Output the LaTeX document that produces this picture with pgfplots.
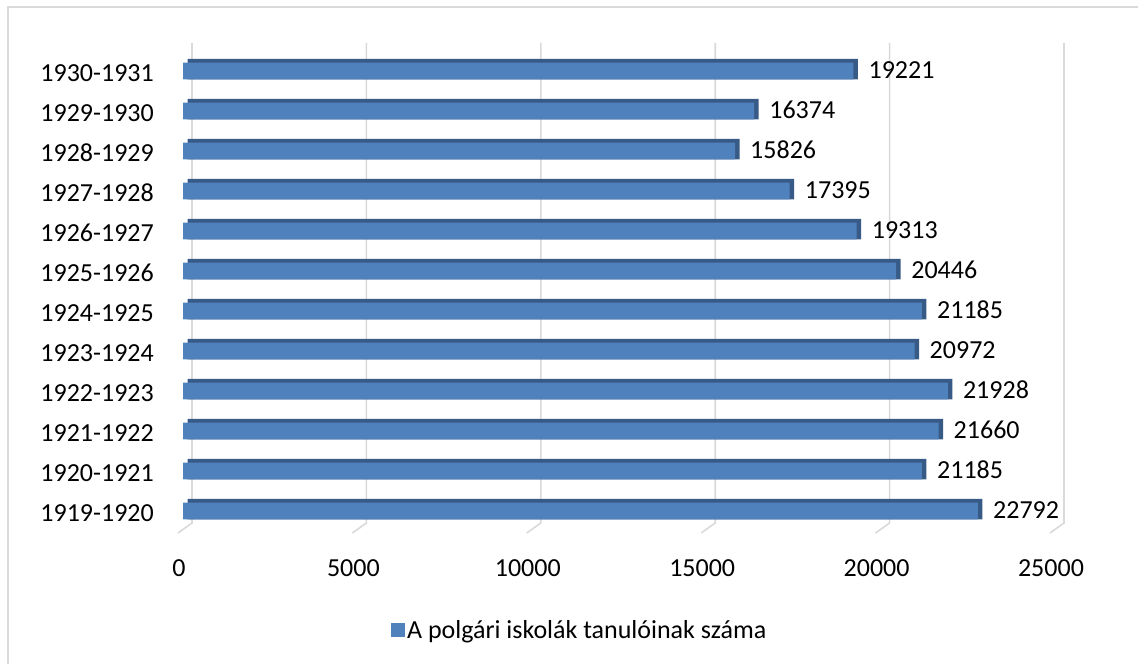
\documentclass[border=0pt]{standalone}
\usepackage{pgfplots}
\pgfplotsset{compat=1.18}
\usepackage{fontspec}
\setmainfont{Carlito}
\definecolor{barc}{HTML}{4F81BD}
\definecolor{bard}{HTML}{375A87}
\definecolor{gridc}{HTML}{D9D9D9}

\begin{document}
\begin{tikzpicture}
\useasboundingbox (0,0) rectangle (1138pt,664pt);
% outer frame (top and left edges only are visible)
\draw[gridc, line width=1.5pt] (8pt,0) -- (8pt,657pt) -- (1138pt,657pt);
\begin{axis}[
  at={(183pt,131pt)}, anchor=south west,
  scale only axis, width=872pt, height=490pt,
  xmin=0, xmax=25000, ymin=-0.55, ymax=11.7,
  xtick={0,5000,...,25000}, scaled ticks=false,
  ytick={0,...,11},
  yticklabels={1919-1920,1920-1921,1921-1922,1922-1923,1923-1924,1924-1925,1925-1926,1926-1927,1927-1928,1928-1929,1929-1930,1930-1931},
  axis line style={draw=none}, major tick length=0pt,
  /pgf/number format/.cd, 1000 sep={}, assume math mode=true, /pgfplots/.cd,
  tick label style={font=\fontsize{26}{30}\selectfont, inner sep=0pt},
  xticklabel style={anchor=base, yshift=-44pt, xshift=-4pt},
  yticklabel style={anchor=base east, xshift=-29pt, yshift=-11pt},
  clip=false,
  legend style={at={(rel axis cs:0.455,-0.198)}, anchor=center, draw=none,
    font=\fontsize{26}{30}\selectfont, inner sep=0pt},
  legend cell align=left,
]
\pgfplotsinvokeforeach{0,5000,10000,15000,20000,25000}{
  \draw[gridc, line width=1.6pt] ([xshift=9pt]axis cs:#1,11.7) -- ([xshift=9pt]axis cs:#1,-0.3) -- ([xshift=-5pt]axis cs:#1,-0.55);
}
\addplot[xbar, bar width=20.5pt, bar shift=1.9pt, fill=bard, draw=none, xshift=4.5pt, forget plot]
  coordinates {(22792,0) (21185,1) (21660,2) (21928,3) (20972,4) (21185,5)
               (20446,6) (19313,7) (17395,8) (15826,9) (16374,10) (19221,11)};
\addplot[xbar, bar width=16.6pt, bar shift=0pt, fill=barc, draw=none,
  nodes near coords, point meta=x,
  every node near coord/.append style={anchor=base west, inner sep=0pt, xshift=15pt, yshift=-8pt, font=\fontsize{26}{30}\selectfont, black},
  legend image code/.code={\fill[barc] (-6pt,-7pt) rectangle (8pt,7pt);}]
  coordinates {(22792,0) (21185,1) (21660,2) (21928,3) (20972,4) (21185,5)
               (20446,6) (19313,7) (17395,8) (15826,9) (16374,10) (19221,11)};
\addlegendentry{A polgári iskolák tanulóinak száma}
\end{axis}
\end{tikzpicture}
\end{document}
